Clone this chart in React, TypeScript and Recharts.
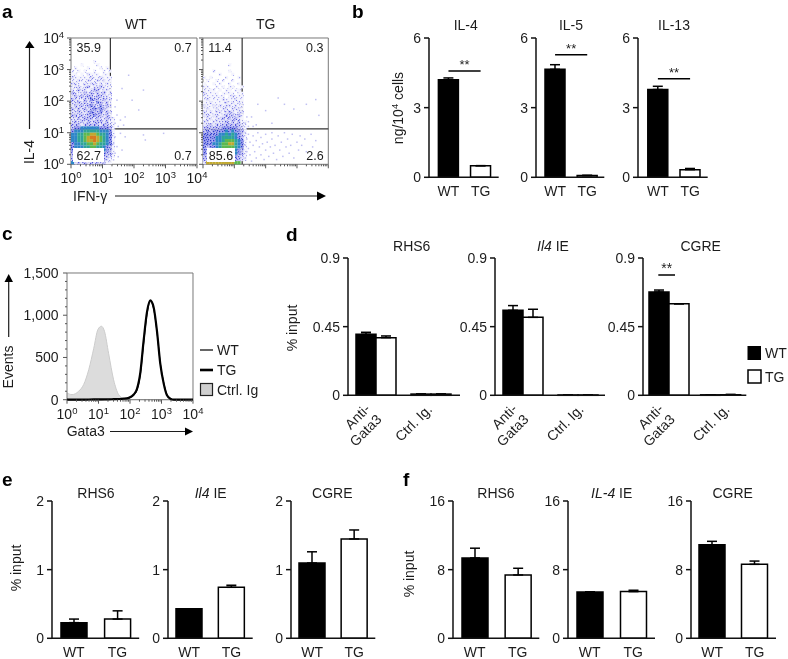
import React from 'react';
import { BarChart, Bar, XAxis, YAxis, ErrorBar, Cell, ReferenceLine, ReferenceArea, ScatterChart, Scatter, ComposedChart, Area, Line, Label } from 'recharts';

const FONT = '"Liberation Sans", Arial, sans-serif';
const INK = '#1c1c1c';

// ---------- panel a: density, rows run from log y 3.2 down to 0, columns from log x 0 up
const wtDensity = [
  '00000001000000','00010000100000','01000100010100','10101001001010','11010211101100','21111121121110','11211211212110',
  '22112122121210','12212312232110','21322123312210','32123232323120','23232332332210','32213243323220','22323232432310',
  '23232343242320','32323234343210','22322343342320','33232334332310','22323332322321','23232323332311','33323333323321',
  '34455555544431','45556666655541','55667788766541','55667899876541','55667889876541','45566778766541','45556677665431',
  '44555666555431','33444555544331','33333444433321','32323333333210','52323232323110',
];
const tgDensity = [
  '00000000000000','00000000100000','00000000000000','00010000100000','00000100010000','10100001000100','01001010010000',
  '10010100100100','11001010110010','11110101101100','21111011110110','11111110121110','12111121112110','11211112121210',
  '21121212212110','12112122122210','21212212321220','22122123232310','12212232323210','22122223232311','22323233333321',
  '33333344444321','34344445454431','44444556565431','44445566665431','44445567776541','44455677886541','43445677776541',
  '43445566765431','43344555655431','33344444444321','33333444433321','28888888887700',
];
const wtSparse = [
  [1.62,2.4],[1.83,2.82],[2.3,2.35],[1.94,2.03],[2.15,1.72],[1.46,2.03],[1.4,1.82],[1.57,1.4],[1.72,1.5],[1.4,1.3],[1.5,1.2],[1.46,1.56],[1.67,1.24],
  [1.4,0.87],[1.57,0.98],[1.35,0.66],[1.4,0.35],[1.5,0.24],[2.3,0.93],[2.36,0.77],[2.94,0.98],[1.72,0.87],[1.35,0.14],[1.46,0.56],[1.62,0.45],
];
const tgSparse = [
  [1.35,1.3],[1.45,1.35],[1.55,1.5],[1.6,1.2],[1.7,1.25],[1.45,1.2],[1.75,1.9],[2.0,1.7],[2.4,2.1],[2.6,1.9],[2.9,1.75],[3.3,1.9],[3.6,2.05],[3.7,1.55],[2.2,1.3],[1.4,1.5],
  [1.35,1.0],[1.4,0.8],[1.35,0.6],[1.4,0.4],[1.35,0.2],[1.45,0.95],[1.5,0.7],[1.45,0.5],[1.5,0.3],[1.55,0.1],[1.6,0.9],[1.6,0.6],[1.65,0.4],[1.7,0.75],[1.7,0.2],
  [1.75,1.0],[1.8,0.55],[1.85,0.3],[1.85,0.85],[1.9,0.65],[1.95,0.15],[2.0,0.95],[2.0,0.45],[2.05,0.7],[2.1,0.25],[2.15,0.55],[2.2,1.0],[2.2,0.8],[2.25,0.35],[2.3,0.6],
  [2.35,0.15],[2.4,0.9],[2.45,0.45],[2.5,0.7],[2.55,0.25],[2.6,1.0],[2.65,0.55],[2.7,0.8],[2.75,0.35],[2.8,0.6],[2.85,0.95],[2.9,0.2],[3.0,0.7],[3.05,0.45],[3.1,0.9],[3.15,0.6],[3.25,0.8],[3.3,0.4],[3.45,0.95],[3.5,0.55],[3.6,0.75],
];
const densityColors = ['#c0c0f2','url(#st1)','url(#st2)','url(#st3)','url(#st4)','#2f86c8','#2fa498','#5cb850','#c0a830','#d87a20'];
const logMinor = [0,0.301,0.477,0.602,0.699,0.778,0.845,0.903,0.954,1,1.301,1.477,1.602,1.699,1.778,1.845,1.903,1.954,2,2.301,2.477,2.602,2.699,2.778,2.845,2.903,2.954,3,3.301,3.477,3.602,3.699,3.778,3.845,3.903,3.954,4];

const gridToPoints = (rows: string[], sparse: number[][]) => {
  const pts: { x: number; y: number; level: number }[] = [];
  rows.forEach((row, r) => {
    row.split('').forEach((c, i) => {
      if (c !== '0') pts.push({ x: i / 10 + 0.05, y: (rows.length - 1 - r) / 10 + 0.05, level: Number(c) });
    });
  });
  sparse.forEach(([x, y]) => pts.push({ x, y, level: 0 }));
  return pts;
};

// stipple tiles used to draw the low-density cells
const stippleDots = [
  { id: 'st1', bg: '#f4f4fd', dot: '#a4a4f0', cells: [[1,1],[6,0],[3,3],[8,4],[0,6],[5,6],[2,8],[7,8]] },
  { id: 'st2', bg: '#e6e6fa', dot: '#7c7cea', cells: [[0,0],[4,0],[7,1],[2,2],[5,3],[8,3],[0,4],[3,5],[6,5],[1,7],[4,7],[8,7]] },
  { id: 'st3', bg: '#c9caf5', dot: '#5252dd', cells: [[1,0],[5,0],[8,1],[3,1],[0,2],[6,2],[2,3],[4,4],[7,4],[0,5],[5,6],[2,6],[8,6],[3,7],[6,8],[1,8]] },
  { id: 'st4', bg: '#9a9cee', dot: '#2c3ecb', cells: [[0,0],[3,0],[6,0],[2,1],[8,1],[5,2],[0,3],[3,3],[7,3],[1,5],[5,4],[8,5],[3,6],[6,6],[0,7],[4,8],[7,8]] },
];

// ---------- panel c
const histX = [0,0.16,0.37,0.53,0.69,0.85,0.98,1.09,1.19,1.32,1.48,1.64,1.8,1.96,2.12,2.22,2.33,2.43,2.54,2.645,2.75,2.86,2.96,3.07,3.17,3.28,3.39,3.7,4];
const ctrlEvents = [80,60,100,180,355,610,830,870,810,550,235,60,12,0,0,0,0,0,0,0,0,0,0,0,0,0,0,0,0];
const wtEvents = [0,0,0,0,0,0,0,0,2,3,5,8,14,18,55,110,300,650,1010,1160,1075,790,440,205,65,15,0,0,0];
const tgEvents = [0,0,0,0,2,3,3,3,4,4,6,8,12,22,62,125,325,690,1040,1175,1095,800,430,190,55,12,0,0,0];
const histTicksY = [0,100,200,300,400,500,600,700,800,900,1000,1100,1200,1300,1400,1500];
const histMajorY = [0,500,1000,1500];

// ---------- panels b, e, f
const genotypes = ['WT', 'TG'];
const il4Cyt = [4.2, 0.5]; const il4CytErr = [0.08, 0];
const il5Cyt = [4.65, 0.08]; const il5CytErr = [0.2, 0];
const il13Cyt = [3.78, 0.33]; const il13CytErr = [0.14, 0.05];
const eRhs6 = [0.228, 0.28]; const eRhs6Err = [0.052, 0.12];
const eIl4 = [0.43, 0.743]; const eIl4Err = [0, 0.03];
const eCgre = [1.097, 1.447]; const eCgreErr = [0.163, 0.131];
const fRhs6 = [9.36, 7.38]; const fRhs6Err = [1.14, 0.78];
const fIl4 = [5.4, 5.44]; const fIl4Err = [0, 0.16];
const fCgre = [10.9, 8.62]; const fCgreErr = [0.4, 0.38];

// ---------- panel d
const dCategories = ['Anti-Gata3', 'Ctrl. Ig.'];
const dRhs6Wt = [0.4, 0.008]; const dRhs6Tg = [0.378, 0.008]; const dRhs6WtErr = [0.013, 0]; const dRhs6TgErr = [0.011, 0];
const dIl4Wt = [0.557, 0.002]; const dIl4Tg = [0.511, 0.002]; const dIl4WtErr = [0.031, 0]; const dIl4TgErr = [0.053, 0];
const dCgreWt = [0.677, 0.003]; const dCgreTg = [0.6, 0.004]; const dCgreWtErr = [0.013, 0]; const dCgreTgErr = [0, 0.002];

const axisStroke = { stroke: '#111', strokeWidth: 1.5 };
const tickStyle = { fontSize: 14, fill: INK, fontFamily: FONT };
const svgText = { fontSize: 14, fill: INK, fontFamily: FONT };
const PAD_BOTTOM = 62;

const Box: React.FC<{ l: number; r: number; t: number; b: number; render: (w: number, h: number, m: any) => React.ReactNode }> = ({ l, r, t, b, render }) => {
  const pad = { left: 50, right: 12, top: 12, bottom: PAD_BOTTOM };
  return (
    <div style={{ position: 'absolute', left: l - pad.left, top: t - pad.top, width: r - l + pad.left + pad.right, height: b - t + pad.top + pad.bottom }}>
      {render(r - l + pad.left + pad.right, b - t + pad.top + pad.bottom, { left: 0, right: pad.right, top: pad.top, bottom: 0 })}
    </div>
  );
};

type PairProps = { l: number; r: number; t: number; b: number; vals: number[]; errs: number[]; max: number; yTicks: number[]; padL?: number; padR?: number; sig?: number; barSize?: number };

const PairPanel: React.FC<PairProps> = ({ l, r, t, b, vals, errs, max, yTicks, padL = 0, padR = 0, sig, barSize = 26 }) => {
  const data = genotypes.map((name, i) => ({ name, value: vals[i], err: [0, errs[i]] }));
  return (
    <Box l={l} r={r} t={t} b={b} render={(w, h, m) => (
      <BarChart width={w} height={h} margin={m} data={data}>
        <XAxis dataKey="name" height={PAD_BOTTOM} axisLine={axisStroke} tickLine={false} tick={tickStyle} tickMargin={3} padding={{ left: padL, right: padR }} interval={0} />
        <YAxis width={50} type="number" domain={[0, max]} ticks={yTicks} axisLine={axisStroke} tickLine={axisStroke} tickSize={5} tickMargin={3} tick={tickStyle} interval={0} />
        <Bar dataKey="value" barSize={barSize} stroke="#000" strokeWidth={1.5} isAnimationActive={false}>
          {data.map((d) => <Cell key={d.name} fill={d.name === 'WT' ? '#000' : '#fff'} />)}
          <ErrorBar dataKey="err" direction="y" width={5} stroke="#000" strokeWidth={1.5} isAnimationActive={false} />
        </Bar>
        {sig !== undefined && (
          <ReferenceLine segment={[{ x: 'WT', y: sig }, { x: 'TG', y: sig }]} stroke="#000" strokeWidth={1.5}>
            <Label value="**" position="top" offset={2} style={{ fontSize: 13, fill: INK, fontFamily: FONT }} />
          </ReferenceLine>
        )}
      </BarChart>
    )} />
  );
};

const DTick: React.FC<any> = ({ x, y, payload, ctrlDx }) => (
  payload.value === 'Anti-Gata3' ? (
    <g>
      <text transform={`translate(${x - 4.5},${y + 14.5}) rotate(-45)`} textAnchor="end" {...svgText}>Anti-</text>
      <text transform={`translate(${x + 7},${y + 25}) rotate(-45)`} textAnchor="end" {...svgText}>Gata3</text>
    </g>
  ) : (
    <text transform={`translate(${x + ctrlDx},${y + 15}) rotate(-45)`} textAnchor="end" {...svgText}>{payload.value}</text>
  )
);

type DProps = { l: number; r: number; wt: number[]; tg: number[]; wtErr: number[]; tgErr: number[]; padR?: number; ctrlDx: number };
const DPanel: React.FC<DProps> = ({ l, r, wt, tg, wtErr, tgErr, padR = 0, ctrlDx }) => {
  const data = dCategories.map((name, i) => ({ name, wt: wt[i], tg: tg[i], wtE: [0, wtErr[i]], tgE: [0, tgErr[i]] }));
  return (
    <Box l={l} r={r} t={257.7} b={395} render={(w, h, m) => (
      <BarChart width={w} height={h} margin={m} data={data} barGap={0}>
        <XAxis dataKey="name" height={PAD_BOTTOM} axisLine={axisStroke} tickLine={false} tickSize={0} tickMargin={0} tick={<DTick ctrlDx={ctrlDx} />} interval={0} padding={{ left: 0, right: padR }} />
        <YAxis width={50} type="number" domain={[0, 0.9]} ticks={[0, 0.45, 0.9]} axisLine={axisStroke} tickLine={axisStroke} tickSize={5} tickMargin={3} tick={tickStyle} interval={0} />
        <Bar dataKey="wt" barSize={20} fill="#000" stroke="#000" strokeWidth={1.5} isAnimationActive={false}>
          <ErrorBar dataKey="wtE" direction="y" width={5} stroke="#000" strokeWidth={1.5} isAnimationActive={false} />
        </Bar>
        <Bar dataKey="tg" barSize={20} fill="#fff" stroke="#000" strokeWidth={1.5} isAnimationActive={false}>
          <ErrorBar dataKey="tgE" direction="y" width={5} stroke="#000" strokeWidth={1.5} isAnimationActive={false} />
        </Bar>
      </BarChart>
    )} />
  );
};

const LogTickX: React.FC<any> = ({ x, y, payload, showLabel }) => {
  const major = Number.isInteger(payload.value);
  return (
    <g>
      <line x1={x} x2={x} y1={y} y2={y + (major ? 4 : 2)} stroke="#555" strokeWidth={1} />
      {major && showLabel && (
        <text x={x} y={y + 19} textAnchor="middle" {...svgText}>10<tspan dy={-5} fontSize={9.5}>{payload.value}</tspan></text>
      )}
    </g>
  );
};
const LogTickY: React.FC<any> = ({ x, y, payload, showLabel }) => {
  const major = Number.isInteger(payload.value);
  return (
    <g>
      <line x1={x} x2={x - (major ? 4 : 2)} y1={y} y2={y} stroke="#555" strokeWidth={1} />
      {major && showLabel && (
        <text x={x - 7} y={y + 5} textAnchor="end" {...svgText}>10<tspan dy={-5} fontSize={9.5}>{payload.value}</tspan></text>
      )}
    </g>
  );
};
const HistTickY: React.FC<any> = ({ x, y, payload }) => {
  const major = histMajorY.includes(payload.value);
  return (
    <g>
      <line x1={x} x2={x - (major ? 4 : 2)} y1={y} y2={y} stroke="#555" strokeWidth={1} />
      {major && <text x={x - 8.5} y={y + 5} textAnchor="end" {...svgText}>{payload.value.toLocaleString('en-US')}</text>}
    </g>
  );
};

const DensityCell: React.FC<any> = ({ cx, cy, payload }) => {
  const s = payload.level === 0 ? 1.5 : 3.2;
  return <rect x={cx - s / 2} y={cy - s / 2} width={s} height={s} fill={densityColors[payload.level]} />;
};

const FlowPanel: React.FC<{ l: number; r: number; rows: string[]; sparse: number[][]; labels: boolean }> = ({ l, r, rows, sparse, labels }) => {
  const pts = gridToPoints(rows, sparse);
  return (
    <Box l={l} r={r} t={37.7} b={164} render={(w, h, m) => (
      <ScatterChart width={w} height={h} margin={m}>
        <XAxis dataKey="x" type="number" domain={[0, 4]} ticks={logMinor} height={PAD_BOTTOM} axisLine={false} tickLine={false} tickSize={0} tickMargin={0} tick={<LogTickX showLabel={labels} />} interval={0} />
        <YAxis dataKey="y" type="number" domain={[0, 4]} ticks={logMinor} width={50} axisLine={false} tickLine={false} tickSize={0} tickMargin={0} tick={<LogTickY showLabel={labels} />} interval={0} />
        <Scatter data={pts} shape={<DensityCell />} isAnimationActive={false} />
        <ReferenceArea x1={0} x2={4} y1={0} y2={4} fill="none" stroke="#777" strokeWidth={1} />
        <ReferenceLine x={1.25} stroke="#333" strokeWidth={1.2} />
        <ReferenceLine y={1.12} stroke="#333" strokeWidth={1.2} />
      </ScatterChart>
    )} />
  );
};

const histData = histX.map((x, i) => ({ x, ctrl: ctrlEvents[i], wt: wtEvents[i], tg: tgEvents[i] }));

const HistPanel = () => (
  <Box l={66.7} r={192.7} t={273.3} b={400} render={(w, h, m) => (
    <ComposedChart width={w} height={h} margin={m} data={histData}>
      <XAxis dataKey="x" type="number" domain={[0, 4]} ticks={logMinor} height={PAD_BOTTOM} axisLine={false} tickLine={false} tickSize={0} tickMargin={0} tick={<LogTickX showLabel />} interval={0} />
      <YAxis type="number" domain={[0, 1500]} ticks={histTicksY} width={50} axisLine={false} tickLine={false} tickSize={0} tickMargin={0} tick={<HistTickY />} interval={0} />
      <Area dataKey="ctrl" type="monotone" fill="#dcdcdc" fillOpacity={1} stroke="#cccccc" strokeWidth={1} isAnimationActive={false} dot={false} />
      <Line dataKey="wt" type="monotone" stroke="#000" strokeWidth={1} dot={false} isAnimationActive={false} />
      <Line dataKey="tg" type="monotone" stroke="#000" strokeWidth={2.2} dot={false} isAnimationActive={false} />
      <ReferenceArea x1={0} x2={4} y1={0} y2={1500} fill="none" stroke="#777" strokeWidth={1} />
    </ComposedChart>
  )} />
);

const T: React.FC<any> = ({ x, y, a = 'middle', s = 14, w, c = INK, r, children }) => (
  <text x={x} y={y} textAnchor={a} fontSize={s} fontWeight={w} fill={c} fontFamily={FONT} transform={r ? `rotate(${r} ${x} ${y})` : undefined}>{children}</text>
);

const Defs = () => (
  <svg width={0} height={0} style={{ position: 'absolute' }}>
    <defs>
      {stippleDots.map((p) => (
        <pattern key={p.id} id={p.id} width={9} height={9} patternUnits="userSpaceOnUse">
          <rect width={9} height={9} fill={p.bg} />
          {p.cells.map(([x, y]) => <rect key={`${x}-${y}`} x={x} y={y} width={1.2} height={1.2} fill={p.dot} />)}
        </pattern>
      ))}
    </defs>
  </svg>
);

const Overlay = () => (
  <svg width={788} height={659} style={{ position: 'absolute', left: 0, top: 0, pointerEvents: 'none' }}>
    {[['a', 2, 18], ['b', 352, 18], ['c', 2, 240], ['d', 286, 241], ['e', 2, 486], ['f', 403, 486]].map(([t, x, y]) => (
      <T key={t as string} x={x} y={y} a="start" s={19} w="bold" c="#000">{t}</T>
    ))}
    <T x={136} y={29}>WT</T><T x={265.7} y={29}>TG</T>
    <rect x={73} y={148} width={31} height={14} fill="#fff" />
    <rect x={207} y={148} width={28} height={14} fill="#fff" />
    <T x={88.7} y={52} s={12.5}>35.9</T><T x={183} y={52} s={12.5}>0.7</T>
    <T x={88.7} y={160} s={12.5}>62.7</T><T x={183} y={160} s={12.5}>0.7</T>
    <T x={220} y={52} s={12.5}>11.4</T><T x={314.7} y={52} s={12.5}>0.3</T>
    <T x={221} y={160} s={12.5}>85.6</T><T x={315} y={160} s={12.5}>2.6</T>
    <T x={34} y={152} r={-90}>IL-4</T>
    <line x1={29.5} x2={29.5} y1={129} y2={47} stroke={INK} strokeWidth={1.2} />
    <polygon points="29.5,41 25,48 34.5,48" fill="#000" />
    <T x={73} y={200.5} a="start">IFN-γ</T>
    <line x1={115} x2={318} y1={196} y2={196} stroke={INK} strokeWidth={1.2} />
    <polygon points="326,196 317,191.5 317,200.5" fill="#000" />

    <T x={465.7} y={30}>IL-4</T><T x={571} y={30}>IL-5</T><T x={674} y={30}>IL-13</T>
    <text transform="translate(403,108) rotate(-90)" textAnchor="middle" fontSize={14} fill={INK} fontFamily={FONT}>ng/10<tspan dy={-5} fontSize={9.5}>4</tspan><tspan dy={5}> cells</tspan></text>

    <T x={13} y={367} r={-90}>Events</T>
    <line x1={8.7} x2={8.7} y1={337} y2={281} stroke={INK} strokeWidth={1.2} />
    <polygon points="8.7,274 4.5,282 13,282" fill="#000" />
    <T x={66.7} y={436} a="start">Gata3</T>
    <line x1={110} x2={186} y1={431.5} y2={431.5} stroke={INK} strokeWidth={1.2} />
    <polygon points="193,431.5 185,427.5 185,435.5" fill="#000" />
    <line x1={200} x2={213} y1={350} y2={350} stroke="#000" strokeWidth={1.2} />
    <T x={217} y={355} a="start">WT</T>
    <line x1={200} x2={213} y1={370} y2={370} stroke="#000" strokeWidth={2.6} />
    <T x={217} y={375} a="start">TG</T>
    <rect x={200.5} y={383.5} width={12} height={12} fill="#cfcfcf" stroke="#222" strokeWidth={1.2} />
    <T x={217} y={395} a="start">Ctrl. Ig</T>

    <T x={411.7} y={251}>RHS6</T>
    <T x={553} y={251}><tspan fontStyle="italic">Il4</tspan> IE</T>
    <T x={700.7} y={251}>CGRE</T>
    <T x={297} y={328} r={-90}>% input</T>
    <line x1={658.3} x2={675} y1={275} y2={275} stroke="#000" strokeWidth={1.5} />
    <T x={666.7} y={273}>**</T>
    <rect x={747.5} y={346} width={13.5} height={14} fill="#000" />
    <T x={765} y={358} a="start">WT</T>
    <rect x={748} y={370} width={13} height={13} fill="#fff" stroke="#000" strokeWidth={1.5} />
    <T x={765} y={381.5} a="start">TG</T>

    <T x={96} y={498}>RHS6</T>
    <T x={210.7} y={498}><tspan fontStyle="italic">Il4</tspan> IE</T>
    <T x={332.3} y={498}>CGRE</T>
    <T x={21} y={568} r={-90}>% input</T>

    <T x={496} y={498}>RHS6</T>
    <T x={611.7} y={498}><tspan fontStyle="italic">IL-4</tspan> IE</T>
    <T x={732.7} y={498}>CGRE</T>
    <T x={414} y={574} r={-90}>% input</T>
  </svg>
);

export default function App() {
  return (
    <div style={{ position: 'absolute', left: 0, top: 0, width: 788, height: 659, overflow: 'hidden', background: '#fff', filter: 'blur(0.3px)' }}>
      <Defs />
      <FlowPanel l={70.7} r={196.7} rows={wtDensity} sparse={wtSparse} labels />
      <FlowPanel l={202.7} r={328} rows={tgDensity} sparse={tgSparse} labels={false} />

      <PairPanel l={429.3} r={499} t={37.7} b={177} vals={il4Cyt} errs={il4CytErr} max={6} yTicks={[0, 3, 6]} padL={3.4} padR={2} sig={4.58} barSize={20} />
      <PairPanel l={535.7} r={604} t={37.7} b={177} vals={il5Cyt} errs={il5CytErr} max={6} yTicks={[0, 3, 6]} padL={3} padR={1} sig={5.28} barSize={20} />
      <PairPanel l={638} r={707.7} t={37.7} b={177} vals={il13Cyt} errs={il13CytErr} max={6} yTicks={[0, 3, 6]} padL={3.8} padR={1.5} sig={4.24} barSize={20} />

      <HistPanel />

      <DPanel l={348} r={460} wt={dRhs6Wt} tg={dRhs6Tg} wtErr={dRhs6WtErr} tgErr={dRhs6TgErr} padR={2} ctrlDx={2.5} />
      <DPanel l={495} r={605} wt={dIl4Wt} tg={dIl4Tg} wtErr={dIl4WtErr} tgErr={dIl4TgErr} ctrlDx={7} />
      <DPanel l={642.7} r={746} wt={dCgreWt} tg={dCgreTg} wtErr={dCgreWtErr} tgErr={dCgreTgErr} ctrlDx={10} />

      <PairPanel l={52.3} r={139.5} t={501} b={638.3} vals={eRhs6} errs={eRhs6Err} max={2} yTicks={[0, 1, 2]} />
      <PairPanel l={168} r={252.7} t={501} b={638.3} vals={eIl4} errs={eIl4Err} max={2} yTicks={[0, 1, 2]} />
      <PairPanel l={290.7} r={375} t={501} b={638.3} vals={eCgre} errs={eCgreErr} max={2} yTicks={[0, 1, 2]} />

      <PairPanel l={452.7} r={539} t={501} b={638.3} vals={fRhs6} errs={fRhs6Err} max={16} yTicks={[0, 8, 16]} />
      <PairPanel l={568} r={655} t={501} b={638.3} vals={fIl4} errs={fIl4Err} max={16} yTicks={[0, 8, 16]} />
      <PairPanel l={691} r={776} t={501} b={638.3} vals={fCgre} errs={fCgreErr} max={16} yTicks={[0, 8, 16]} />

      <Overlay />
    </div>
  );
}
